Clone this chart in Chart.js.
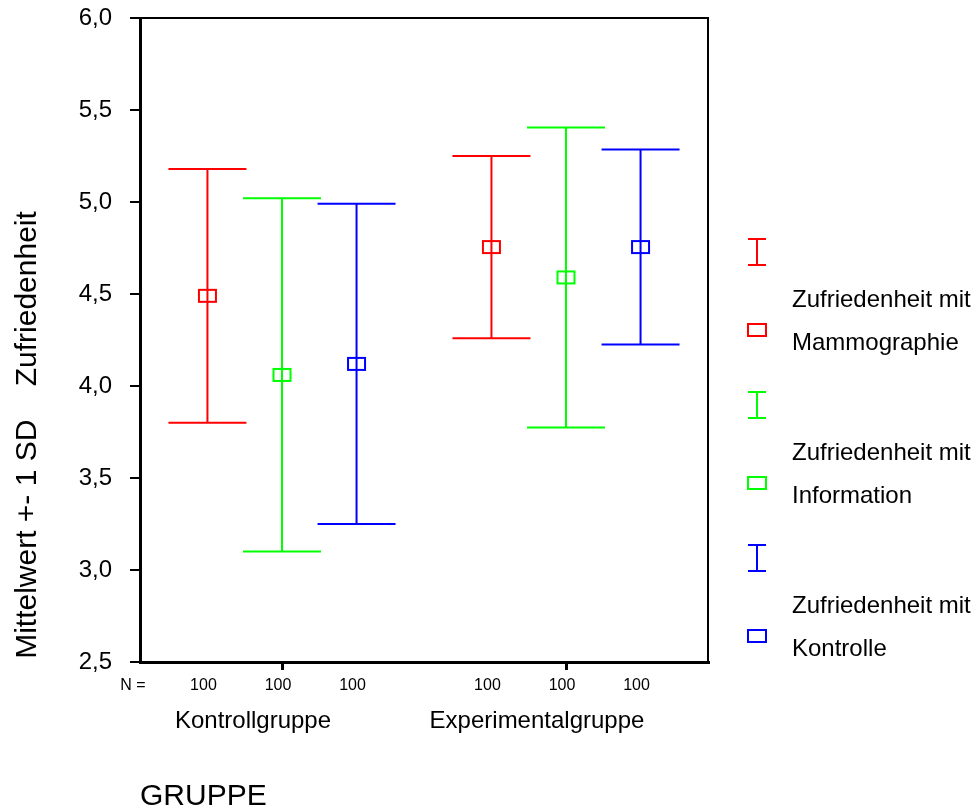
<!DOCTYPE html>
<html>
<head>
<meta charset="utf-8">
<script src="https://cdn.jsdelivr.net/npm/chart.js@4"></script>
<style>
  body { margin: 0; background: #fff; }
  #wrap { width: 980px; height: 812px; position: relative; }
</style>
</head>
<body>
<div id="wrap"><canvas id="chartData"></canvas></div>
<script>
// Daten
const groups = ['Kontrollgruppe', 'Experimentalgruppe']
const seriesNames = [
  ['Zufriedenheit mit', 'Mammographie'],
  ['Zufriedenheit mit', 'Information'],
  ['Zufriedenheit mit', 'Kontrolle']
]
const seriesColors = ['#ff0000', '#00ff00', '#0000ff']

const meanMammographie = [4.49, 4.755]
const meanInformation = [4.06, 4.59]
const meanKontrolle = [4.12, 4.755]

const sdMammographie = [0.69, 0.495]
const sdInformation = [0.96, 0.815]
const sdKontrolle = [0.87, 0.53]

const nMammographie = [100, 100]
const nInformation = [100, 100]
const nKontrolle = [100, 100]

const yTicks = [2.5, 3.0, 3.5, 4.0, 4.5, 5.0, 5.5, 6.0]

const means = [meanMammographie, meanInformation, meanKontrolle]
const sds = [sdMammographie, sdInformation, sdKontrolle]
const counts = [nMammographie, nInformation, nKontrolle]

// position of group centres on the x scale, and series offsets
const groupPos = [1, 3]
const offsets = [-0.525, 0, 0.525]

const FONT = '"Liberation Sans", Arial, sans-serif'

const datasets = seriesNames.map((name, s) => ({
  label: name.join(' '),
  data: groups.map((g, i) => ({ x: groupPos[i] + offsets[s], y: means[s][i], sd: sds[s][i], n: counts[s][i] })),
  borderColor: seriesColors[s],
  backgroundColor: seriesColors[s],
  pointRadius: 0,
  showLine: false
}))

// Fehlerbalken + Mittelwert-Kästchen
const errorBars = {
  id: 'errorBars',
  afterDatasetsDraw(chart) {
    const ctx = chart.ctx
    const xs = chart.scales.x
    const ys = chart.scales.y
    chart.data.datasets.forEach((ds) => {
      ds.data.forEach((d) => {
        const px = xs.getPixelForValue(d.x)
        const top = ys.getPixelForValue(d.y + d.sd)
        const bot = ys.getPixelForValue(d.y - d.sd)
        const mid = ys.getPixelForValue(d.y)
        ctx.save()
        ctx.strokeStyle = ds.borderColor
        ctx.lineWidth = 2
        ctx.beginPath()
        ctx.moveTo(px, top); ctx.lineTo(px, bot)
        ctx.moveTo(px - 39, top); ctx.lineTo(px + 39, top)
        ctx.moveTo(px - 39, bot); ctx.lineTo(px + 39, bot)
        ctx.stroke()
        ctx.strokeRect(px - 8.5, mid - 6, 17, 12)
        ctx.restore()
      })
    })
  },
  afterDraw(chart) {
    const ctx = chart.ctx
    const a = chart.chartArea
    const xs = chart.scales.x
    ctx.save()
    // Rahmen oben und rechts
    ctx.strokeStyle = '#000'
    ctx.lineWidth = 2
    ctx.beginPath()
    ctx.moveTo(a.left, a.top); ctx.lineTo(a.right, a.top); ctx.lineTo(a.right, a.bottom)
    ctx.stroke()

    ctx.fillStyle = '#000'
    ctx.textBaseline = 'middle'
    ctx.textAlign = 'center'
    ctx.font = '16px ' + FONT
    ctx.fillText('N =', 133, a.bottom + 24)
    datasets.forEach((ds) => {
      ds.data.forEach((d) => {
        ctx.fillText(String(d.n), xs.getPixelForValue(d.x) - 4, a.bottom + 24)
      })
    })
    ctx.font = '24px ' + FONT
    groups.forEach((g, i) => {
      ctx.fillText(g, xs.getPixelForValue(groupPos[i]) - 29, a.bottom + 59)
    })

    // Achsentitel
    ctx.font = '30px ' + FONT
    ctx.textAlign = 'left'
    ctx.fillText('GRUPPE', 140, 797)
    ctx.save()
    ctx.translate(28, 435)
    ctx.rotate(-Math.PI / 2)
    ctx.textAlign = 'center'
    ctx.fillText('Mittelwert +- 1 SD    Zufriedenheit', 0, 0)
    ctx.restore()

    // Legende
    ctx.font = '24px ' + FONT
    ctx.textAlign = 'left'
    seriesNames.forEach((name, s) => {
      const cy = 252 + s * 153
      ctx.strokeStyle = seriesColors[s]
      ctx.lineWidth = 2
      ctx.beginPath()
      ctx.moveTo(757, cy - 13); ctx.lineTo(757, cy + 13)
      ctx.moveTo(748, cy - 13); ctx.lineTo(766, cy - 13)
      ctx.moveTo(748, cy + 13); ctx.lineTo(766, cy + 13)
      ctx.stroke()
      ctx.strokeRect(748, cy + 72, 18, 12)
      ctx.fillText(name[0], 792, cy + 48)
      ctx.fillText(name[1], 792, cy + 91)
    })
    ctx.restore()
  }
}

new Chart(document.getElementById('chartData'), {
  type: 'scatter',
  data: { datasets: datasets },
  options: {
    responsive: true,
    maintainAspectRatio: false,
    animation: false,
    layout: { padding: { top: 18, right: 272, bottom: 0, left: 0 } },
    plugins: { legend: { display: false }, tooltip: { enabled: false } },
    scales: {
      x: {
        type: 'linear',
        min: 0,
        max: 4,
        afterBuildTicks: (scale) => { scale.ticks = groupPos.map(v => ({ value: v })) },
        afterFit: (scale) => { scale.height = 150; scale.paddingLeft = 0; scale.paddingRight = 0 },
        ticks: { callback: () => '', font: { size: 10 } },
        grid: { drawOnChartArea: false, drawTicks: true, tickLength: 8, color: '#000', lineWidth: 3 },
        border: { color: '#000', width: 3 }
      },
      y: {
        min: 2.5,
        max: 6,
        afterBuildTicks: (scale) => { scale.ticks = yTicks.map(v => ({ value: v })) },
        afterFit: (scale) => { scale.width = 140; scale.paddingTop = 0; scale.paddingBottom = 0 },
        ticks: {
          color: '#000',
          padding: 18,
          font: { family: FONT, size: 24 },
          callback: (v) => v.toFixed(1).replace('.', ',')
        },
        grid: { drawOnChartArea: false, drawTicks: true, tickLength: 10, color: '#000', lineWidth: 2 },
        border: { color: '#000', width: 3 }
      }
    }
  },
  plugins: [errorBars]
})
</script>
</body>
</html>
